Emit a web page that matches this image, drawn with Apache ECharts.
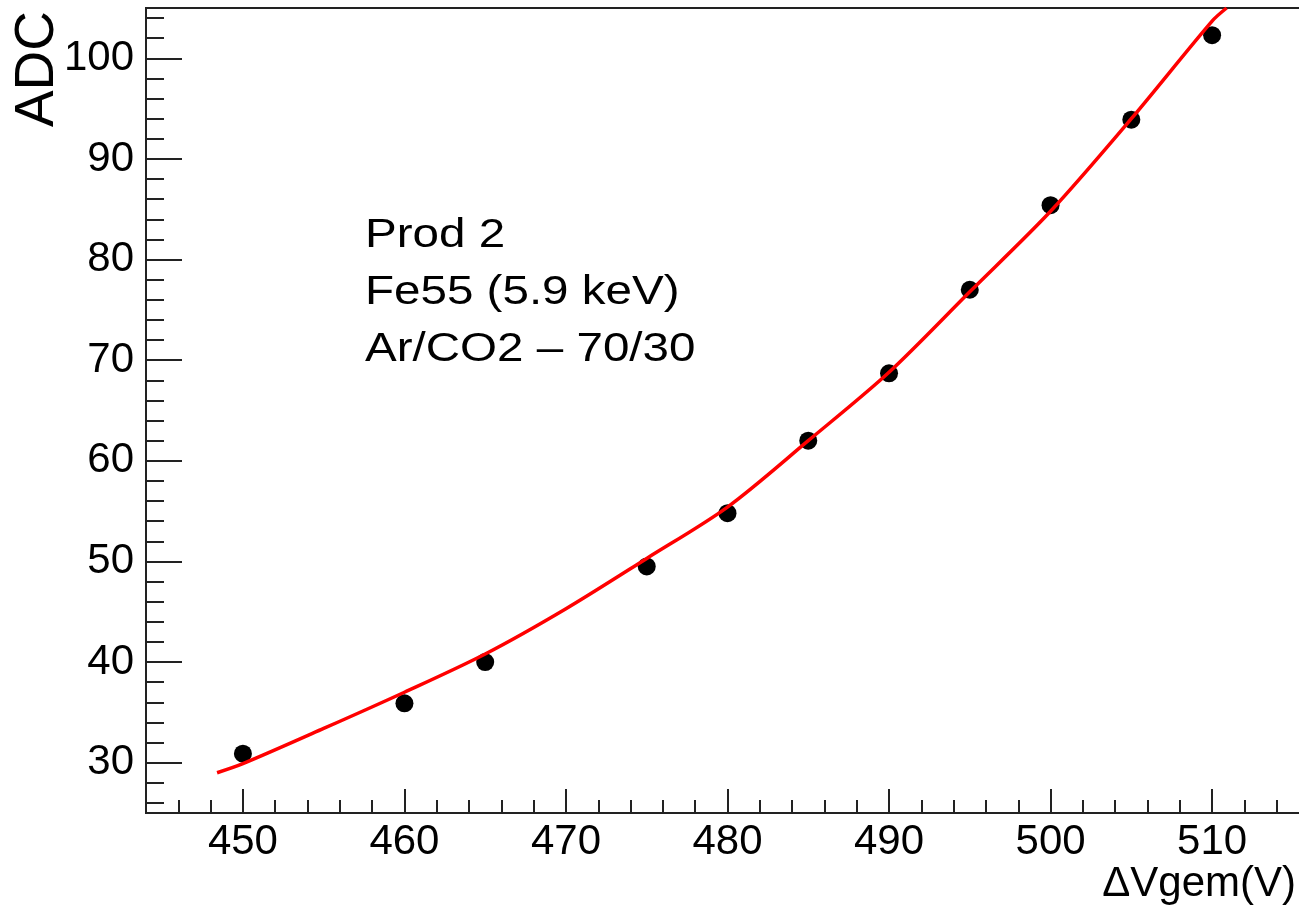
<!DOCTYPE html>
<html>
<head>
<meta charset="utf-8" />
<title>ADC vs dVgem</title>
<script src="https://cdn.jsdelivr.net/npm/echarts@6/dist/echarts.min.js"></script>
<style>
  html, body { margin: 0; padding: 0; background: #fff; }
  #chart { width: 1299px; height: 914px; }
</style>
</head>
<body>
<div id="chart"></div>
<script>
// measured points
const voltage = [450, 460, 465, 475, 480, 485, 490, 495, 500, 505, 510];
const adc = [30.9, 35.9, 40.0, 49.5, 54.8, 62.0, 68.7, 77.0, 85.4, 93.9, 102.3];

// red fit curve
const fitX = [448.4, 450, 455, 460, 465, 470, 475, 480, 485, 490, 495, 500, 505, 510, 510.9];
const fitY = [29.0, 29.9, 33.4, 37.0, 40.8, 45.3, 50.3, 55.4, 62.0, 68.8, 76.8, 84.8, 94.0, 103.7, 105];

// axis ticks
const xMajor = [450, 460, 470, 480, 490, 500, 510];
const xMinor = [446, 448, 452, 454, 456, 458, 462, 464, 466, 468, 472, 474, 476, 478,
  482, 484, 486, 488, 492, 494, 496, 498, 502, 504, 506, 508, 512, 514];
const yMajor = [30, 40, 50, 60, 70, 80, 90, 100];
const yMinor = [26, 28, 32, 34, 36, 38, 42, 44, 46, 48, 52, 54, 56, 58, 62, 64, 66, 68,
  72, 74, 76, 78, 82, 84, 86, 88, 92, 94, 96, 98, 102, 104];

const infoLines = ["Prod 2", "Fe55 (5.9 keV)", "Ar/CO2 \u2013 70/30"];

const font = "Liberation Sans, Arial, Helvetica, sans-serif";
const axisColor = "#222";

// axis that only draws inside ticks at the given values
function tickAxis(pos, min, max, values, len) {
  return {
    type: "value",
    position: pos,
    offset: 0,
    min: min,
    max: max,
    axisLine: { show: false },
    axisTick: {
      show: true,
      inside: true,
      length: len,
      customValues: values,
      lineStyle: { color: axisColor, width: 2 },
    },
    axisLabel: { show: false },
    splitLine: { show: false },
  };
}

const chart = echarts.init(document.getElementById("chart"));

const option = {
  animation: false,
  backgroundColor: "#fff",
  grid: {
    left: 146,
    top: 8,
    width: 1163,
    height: 805,
    containLabel: false,
    outerBoundsMode: "none",
    show: true,
    borderColor: axisColor,
    borderWidth: 2,
    backgroundColor: "transparent",
  },
  xAxis: [
    {
      type: "value",
      offset: 0,
      min: 444,
      max: 516,
      axisLine: { show: true, lineStyle: { color: axisColor, width: 2 } },
      axisTick: { show: false },
      axisLabel: {
        customValues: xMajor,
        fontSize: 42,
        fontFamily: font,
        color: "#000",
        margin: 8,
      },
      splitLine: { show: false },
    },
    tickAxis("bottom", 444, 516, xMajor, 24),
    tickAxis("bottom", 444, 516, xMinor, 13),
  ],
  yAxis: [
    {
      type: "value",
      offset: 0,
      min: 25,
      max: 105,
      axisLine: { show: true, lineStyle: { color: axisColor, width: 2 } },
      axisTick: { show: false },
      axisLabel: {
        customValues: yMajor,
        fontSize: 42,
        fontFamily: font,
        color: "#000",
        margin: 12,
      },
      splitLine: { show: false },
    },
    tickAxis("left", 25, 105, yMajor, 36),
    tickAxis("left", 25, 105, yMinor, 18),
  ],
  series: [
    {
      name: "data",
      type: "scatter",
      xAxisIndex: 0,
      yAxisIndex: 0,
      symbol: "circle",
      symbolSize: 18,
      itemStyle: { color: "#000", opacity: 1 },
      data: voltage.map((v, i) => [v, adc[i]]),
      z: 2,
    },
    {
      name: "fit",
      type: "line",
      xAxisIndex: 0,
      yAxisIndex: 0,
      showSymbol: false,
      smooth: 0.3,
      lineStyle: { color: "#ff0000", width: 3.5 },
      data: fitX.map((v, i) => [v, fitY[i]]),
      z: 3,
    },
  ],
  graphic: [
    {
      type: "text",
      x: 38,
      y: 69,
      rotation: Math.PI / 2,
      style: {
        text: "ADC",
        font: "55px " + font,
        fill: "#000",
        textAlign: "center",
        textVerticalAlign: "middle",
      },
    },
    {
      type: "text",
      x: 1296,
      y: 905,
      style: {
        text: "\u0394Vgem(V)",
        font: "42px " + font,
        fill: "#000",
        textAlign: "right",
        textVerticalAlign: "bottom",
      },
    },
  ].concat(
    // the note text is a bit wider than plain Arial in the original
    infoLines.map((t, i) => ({
      type: "text",
      x: 365,
      y: 236 + i * 57,
      scaleX: 1.16,
      style: {
        text: t,
        font: "41px " + font,
        fill: "#000",
        textAlign: "left",
        textVerticalAlign: "middle",
      },
    }))
  ),
};

chart.setOption(option);
</script>
</body>
</html>
